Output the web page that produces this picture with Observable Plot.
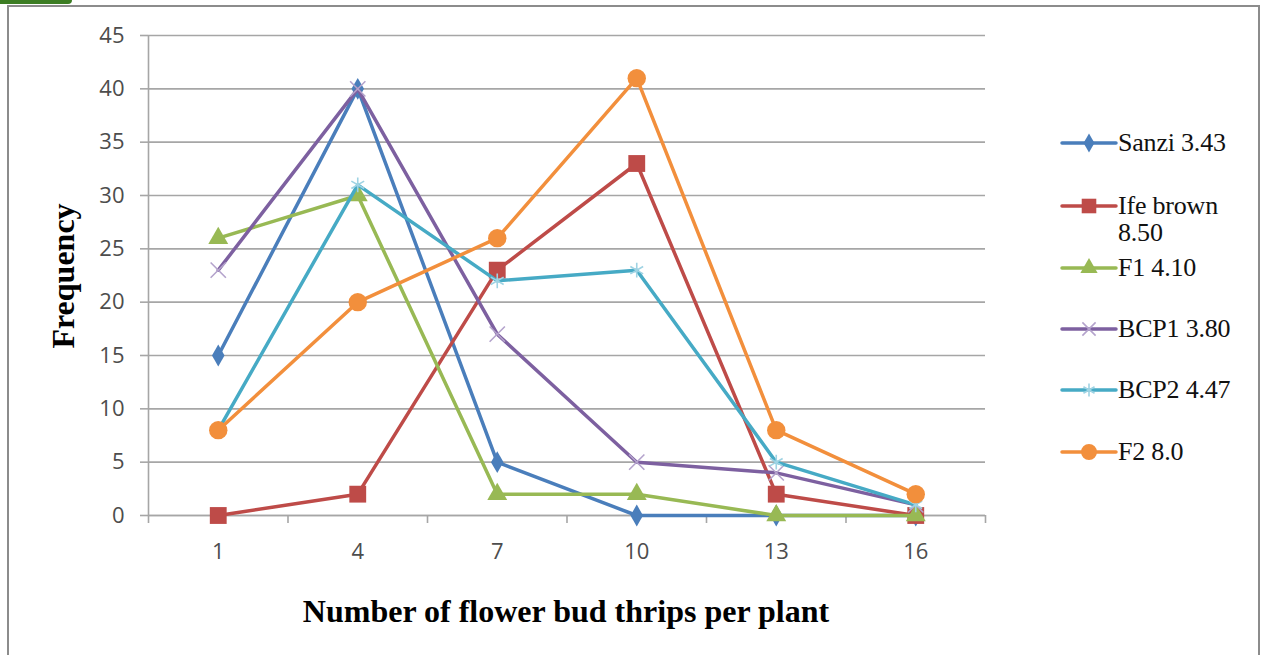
<!DOCTYPE html>
<html><head><meta charset="utf-8">
<script src="https://cdn.jsdelivr.net/npm/d3@7"></script>
<script src="https://cdn.jsdelivr.net/npm/@observablehq/plot@0.6"></script>
<style>
body{margin:0;background:#fff;}
#wrap{position:relative;width:1265px;height:655px;overflow:hidden;}
#frame{position:absolute;left:7px;top:5px;width:1253px;height:660px;border:2px solid #8c8c8c;box-sizing:border-box;}
#tab{position:absolute;left:0;top:0;width:72px;height:4px;background:#3c7d23;border-radius:0 0 4px 0;}
#chart{position:absolute;left:0;top:0;}
.ttl{position:absolute;font-family:"Liberation Serif","Times New Roman",serif;font-weight:bold;color:#000;white-space:nowrap;}
#legend{position:absolute;left:1060px;top:0;font-family:"Liberation Serif","Times New Roman",serif;font-size:26px;color:#111;}
.li{position:absolute;left:0;display:flex;align-items:flex-start;white-space:nowrap;}
.li svg{flex:none;}
.li span{line-height:27px;letter-spacing:-0.2px;}
</style></head>
<body><div id="wrap"><div id="frame"></div><div id="tab"></div><div id="chart"></div>
<div class="ttl" id="ytitle" style="font-size:32px;left:63px;top:276px;transform:translate(-50%,-50%) rotate(-90deg);">Frequency</div>
<div class="ttl" id="xtitle" style="font-size:32px;left:566px;top:611px;transform:translate(-50%,-50%);">Number of flower bud thrips per plant</div>
<div id="legend"></div>
</div>
<script>
const categories = [1, 4, 7, 10, 13, 16];
const seriesNames = ["Sanzi 3.43", "Ife brown 8.50", "F1 4.10", "BCP1  3.80", "BCP2 4.47", "F2 8.0"];
const sanzi   = [15, 40, 5, 0, 0, 0];
const ifeBrown= [0, 2, 23, 33, 2, 0];
const f1      = [26, 30, 2, 2, 0, 0];
const bcp1    = [23, 40, 17, 5, 4, 1];
const bcp2    = [8, 31, 22, 23, 5, 1];
const f2      = [8, 20, 26, 41, 8, 2];
const yTicks  = [0, 5, 10, 15, 20, 25, 30, 35, 40, 45];

const seriesValues = [sanzi, ifeBrown, f1, bcp1, bcp2, f2];
const lineColors = ["#4a7ebb", "#be4b48", "#98b954", "#7d60a0", "#46aac5", "#f28f3c"];
const markColors = ["#4a7ebb", "#be4b48", "#98b954", "#b4a3cc", "#9fd3e3", "#f28f3c"];
const symbols = ["diamond", "square", "triangle", "times", "asterisk", "circle"];
const sizes = [6.6, 9.5, 7.4, 7, 7, 9.2];

const data = [];
seriesNames.forEach((s, i) => categories.forEach((c, j) => data.push({series: s, x: c, y: seriesValues[i][j], idx: i})));

const boundaries = categories.map(c => c - 1.5).concat([categories[categories.length - 1] + 1.5]);

const marks = [
  Plot.gridY(yTicks, {stroke: "#a6a6a6", strokeOpacity: 1, strokeWidth: 1.6}),
  Plot.ruleX([boundaries[0]], {stroke: "#a6a6a6", strokeWidth: 1.6}),
  Plot.ruleY([0], {stroke: "#a6a6a6", strokeWidth: 1.6}),
  Plot.axisY({ticks: yTicks, tickSize: 8, tickPadding: 16, label: null, stroke: "#a6a6a6", strokeWidth: 1.6, fontSize: 22, fill: "#4d4d4d"}),
  Plot.axisX({ticks: boundaries, tickSize: 8, tickFormat: () => "", label: null, stroke: "#a6a6a6", strokeWidth: 1.6}),
  Plot.axisX({ticks: categories, tickSize: 0, tickPadding: 28, tickFormat: d => String(d), label: null, fontSize: 22, fill: "#4d4d4d"})
];
seriesNames.forEach((s, i) => {
  const d = data.filter(r => r.idx === i);
  marks.push(Plot.line(d, {x: "x", y: "y", stroke: lineColors[i], strokeWidth: 3.5}));
  const filled = symbols[i] !== "times" && symbols[i] !== "asterisk";
  marks.push(Plot.dot(d, filled
    ? {x: "x", y: "y", symbol: () => symbols[i], r: sizes[i], fill: lineColors[i], stroke: "none"}
    : {x: "x", y: "y", symbol: () => symbols[i], r: sizes[i], stroke: markColors[i], strokeWidth: 1.6, fill: "none"}));
});

const chart = Plot.plot({
  width: 1265, height: 655,
  marginLeft: 148, marginRight: 280, marginTop: 35, marginBottom: 140,
  style: {fontFamily: "'Open Sans', 'Liberation Sans', sans-serif", fontSize: "22px", color: "#4d4d4d", background: "transparent", overflow: "visible"},
  x: {type: "linear", domain: [boundaries[0], boundaries[boundaries.length - 1]]},
  y: {domain: [0, 45]},
  symbol: {type: "identity"},
  marks
});
document.getElementById("chart").appendChild(chart);

// legend
const legendRows = [143, 206, 268, 329, 390, 452];
const leg = document.getElementById("legend");
seriesNames.forEach((s, i) => {
  const row = document.createElement("div");
  row.className = "li";
  row.style.top = (legendRows[i] - 14) + "px";
  const ns = "http://www.w3.org/2000/svg";
  const svg = document.createElementNS(ns, "svg");
  svg.setAttribute("width", 58); svg.setAttribute("height", 28);
  const ln = document.createElementNS(ns, "line");
  ln.setAttribute("x1", 2); ln.setAttribute("x2", 56); ln.setAttribute("y1", 14); ln.setAttribute("y2", 14);
  ln.setAttribute("stroke", lineColors[i]); ln.setAttribute("stroke-width", 3.5); ln.setAttribute("stroke-linecap", "round");
  svg.appendChild(ln);
  const symMap = {diamond: d3.symbolDiamond, square: d3.symbolSquare, triangle: d3.symbolTriangle, times: d3.symbolTimes, asterisk: d3.symbolAsterisk, circle: d3.symbolCircle};
  const p = document.createElementNS(ns, "path");
  p.setAttribute("d", d3.symbol(symMap[symbols[i]], Math.PI * sizes[i] * sizes[i] * 0.75)());
  p.setAttribute("transform", "translate(29,14)");
  if (symbols[i] === "times" || symbols[i] === "asterisk") {
    p.setAttribute("stroke", markColors[i]); p.setAttribute("fill", "none"); p.setAttribute("stroke-width", 1.6);
  } else p.setAttribute("fill", lineColors[i]);
  svg.appendChild(p);
  row.appendChild(svg);
  const t = document.createElement("span");
  if (i === 1) { t.innerHTML = "Ife brown<br>8.50"; } else t.textContent = s;
  row.appendChild(t);
  leg.appendChild(row);
});
</script></body></html>
